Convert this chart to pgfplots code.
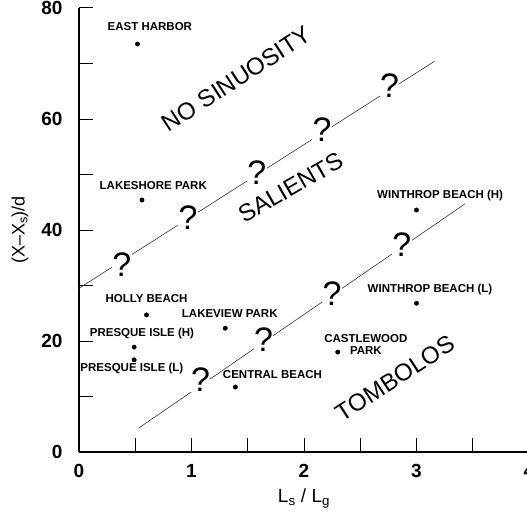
\documentclass[border=0pt]{standalone}
\usepackage{fontspec}
\setmainfont{Liberation Sans}
\usepackage{pgfplots}
\pgfplotsset{compat=1.18}

\newcommand{\fs}[1]{\fontsize{#1}{#1}\selectfont}

\begin{document}
\begin{tikzpicture}
\begin{axis}[
	scale only axis,
	width=450pt, height=444pt,
	xmin=0, xmax=4, ymin=0, ymax=80,
	axis lines=left,
	axis line style={-, line width=1.1pt},
	xtick={0,1,2,3,4}, ytick={0,20,40,60,80},
	minor xtick={0.5,1.5,2.5,3.5}, minor ytick={10,30,50,70},
	tick align=inside,
	major tick length=14pt, minor tick length=14pt,
	tick style={line width=1pt, black},
	ticklabel style={font=\fs{19}\bfseries},
	/pgf/number format/assume math mode=true,
	yticklabel style={xshift=-13pt},
	xticklabel style={yshift=-9pt},
	xlabel={L\textsubscript{s} / L\textsubscript{g}},
	ylabel={(X--X\textsubscript{s})/d},
	xlabel style={font=\fs{19}, yshift=-4pt},
	ylabel style={font=\fs{18}, yshift=6pt},
	clip=false,
]
\coordinate (org) at (rel axis cs:0,0);

% boundary lines
\addplot[black!80, line width=0.6pt] coordinates {(0,29.5) (3.16,70.4)};
\addplot[black!80, line width=0.6pt] coordinates {(0.53,4.3) (3.43,44.7)};

% question marks on the lines
\addplot[only marks, mark=text, text mark={?}, text mark as node=true,
	text mark style={font=\fs{34}, fill=white, inner sep=0.5pt}]
	coordinates {(0.38,33.7) (0.97,42.3) (1.58,50.3) (2.16,58) (2.76,66)
	(1.08,13) (1.64,20.2) (2.25,28.6) (2.87,37.3)};

% sites
\addplot[only marks, mark=*, mark size=2.2pt, black] coordinates {
	(0.52,73.5) (0.56,45.4) (3.0,43.6) (0.60,24.7) (1.30,22.3)
	(0.49,18.9) (0.49,16.6) (1.39,11.7) (2.30,18.0) (3.0,26.8)};

\begin{scope}[every node/.style={font=\fs{11.5}\bfseries}]
\node at (axis cs:0.63,76.6) {EAST HARBOR};
\node at (axis cs:0.66,48.1) {LAKESHORE PARK};
\node at (axis cs:3.21,46.3) {WINTHROP BEACH (H)};
\node at (axis cs:0.60,27.7) {HOLLY BEACH};
\node at (axis cs:1.34,24.9) {LAKEVIEW PARK};
\node at (axis cs:0.56,21.4) {PRESQUE ISLE (H)};
\node at (axis cs:0.47,15.0) {PRESQUE ISLE (L)};
\node at (axis cs:1.72,13.9) {CENTRAL BEACH};
\node[align=center] at (axis cs:2.55,19.4) {CASTLEWOOD\\PARK};
\node at (axis cs:3.12,29.2) {WINTHROP BEACH (L)};
\end{scope}

\begin{scope}[every node/.style={font=\fs{24}}]
\node[rotate=33] at (axis cs:1.40,67.2) {NO SINUOSITY};
\node[rotate=30] at (axis cs:1.88,47.6) {SALIENTS};
\node[rotate=33] at (axis cs:2.81,13.3) {TOMBOLOS};
\end{scope}
\end{axis}
\pgfresetboundingbox
\path (org) ++(-79pt,-59pt) rectangle ++(527pt,511pt);
\end{tikzpicture}
\end{document}
